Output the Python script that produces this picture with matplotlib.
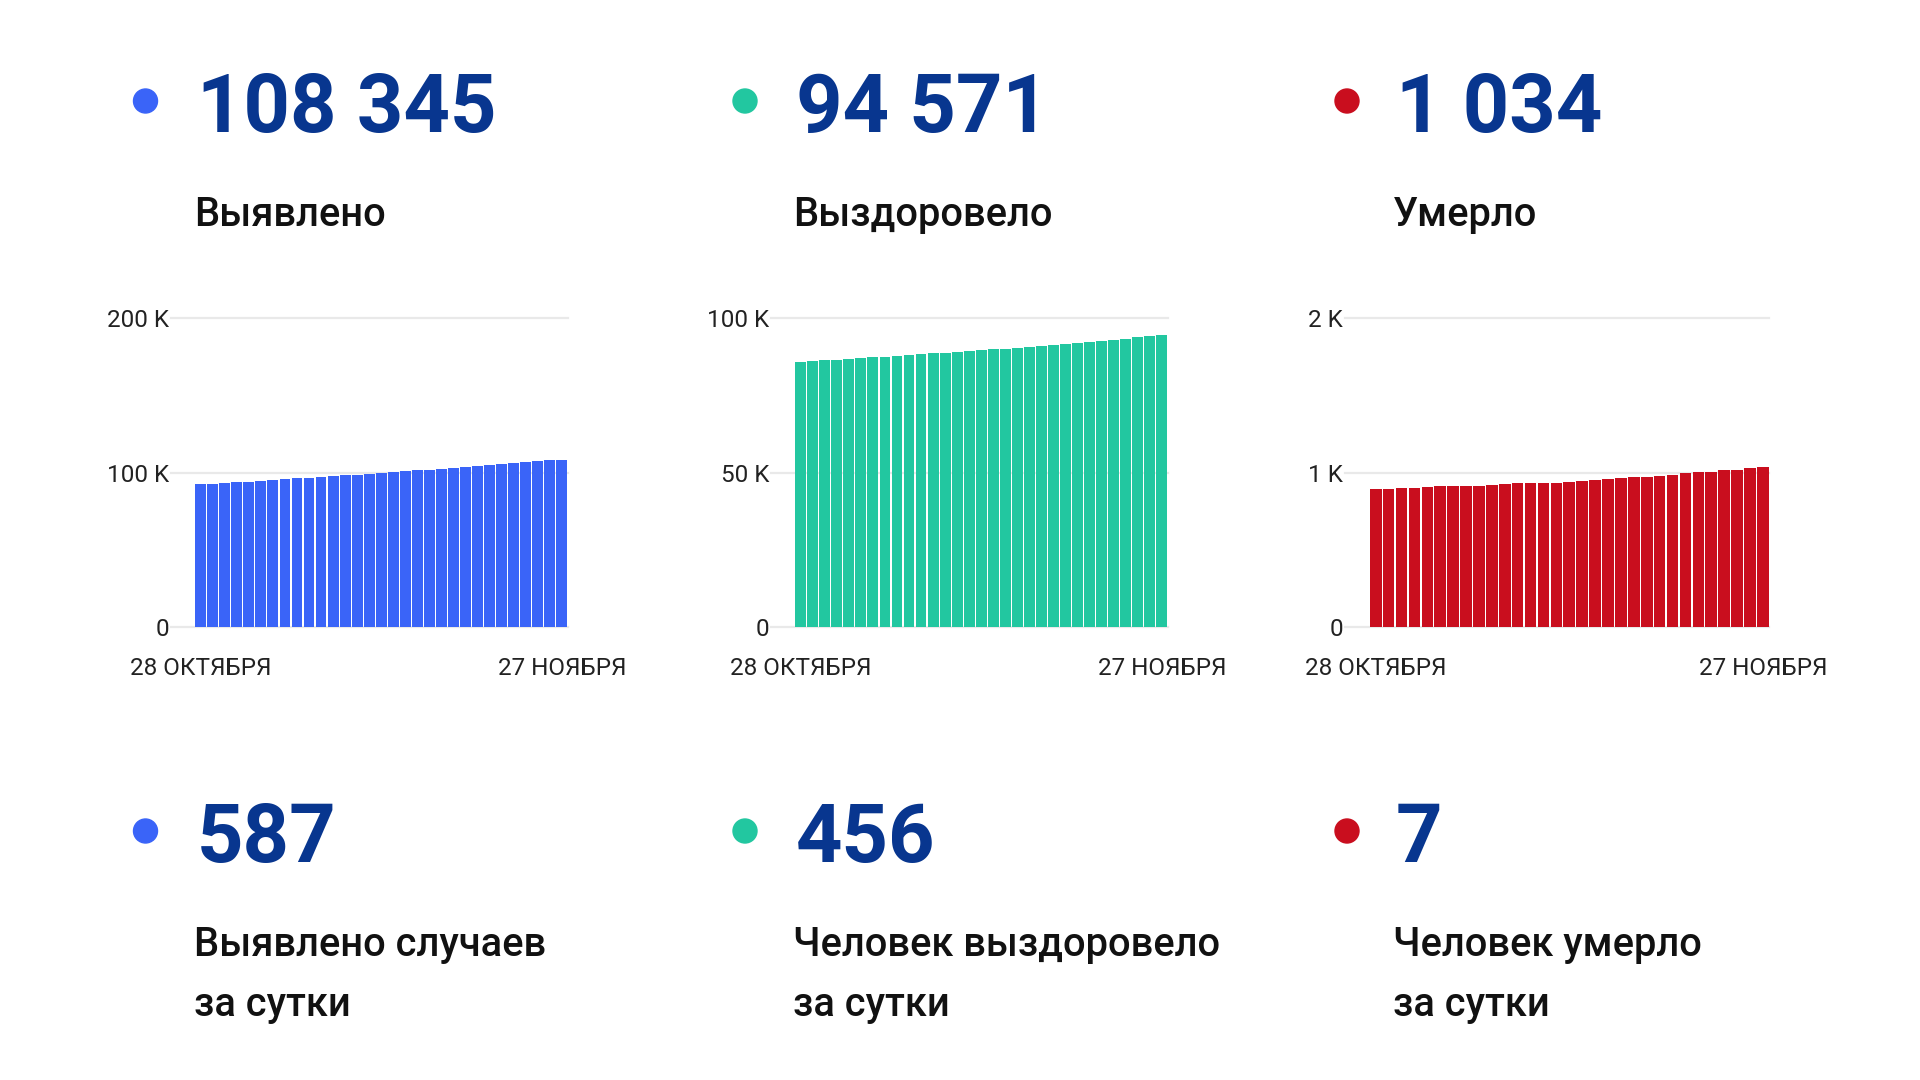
import matplotlib
matplotlib.use("Agg")
import matplotlib.pyplot as plt
from matplotlib.patches import Circle

plt.rcParams['font.family'] = ['Roboto', 'DejaVu Sans']

# ---------------- data ----------------
date_labels = ["28 ОКТЯБРЯ", "27 НОЯБРЯ"]

cases_total = [92310, 92770, 93235, 93705, 94180, 94660, 95145, 95635, 96130, 96630,
               97135, 97645, 98160, 98680, 99205, 99735, 100270, 100810, 101355, 101905,
               102450, 103000, 103560, 104130, 104700, 105280, 105870, 106470, 107110, 107758,
               108345]
recovered_total = [85620, 85930, 86220, 86490, 86750, 86990, 87220, 87450, 87680, 87920,
                   88170, 88440, 88720, 89000, 89270, 89520, 89760, 90000, 90250, 90520,
                   90810, 91110, 91420, 91740, 92080, 92440, 92820, 93230, 93660, 94115,
                   94571]
deaths_total = [892, 895, 899, 903, 906, 910, 912, 914, 916, 920,
                925, 929, 933, 933, 935, 940, 946, 953, 959, 966,
                970, 970, 976, 985, 994, 1002, 1006, 1013, 1015, 1027,
                1034]

big_numbers = ["108 345", "94 571", "1 034"]
big_labels = ["Выявлено", "Выздоровело", "Умерло"]
day_numbers = ["587", "456", "7"]
day_labels = [["Выявлено случаев", "за сутки"],
              ["Человек выздоровело", "за сутки"],
              ["Человек умерло", "за сутки"]]

y_ticks = [[0, 100000, 200000], [0, 50000, 100000], [0, 1000, 2000]]
y_ticklabels = [["0", "100 K", "200 K"], ["0", "50 K", "100 K"], ["0", "1 K", "2 K"]]

colors = ["#3a64f8", "#22c7a0", "#c90e1e"]
num_color = "#08368f"

# ---------------- figure ----------------
W, H = 1920, 1080
fig = plt.figure(figsize=(W / 100, H / 100), dpi=100)
fig.patch.set_facecolor("white")

# overlay in pixel coordinates
ov = fig.add_axes([0, 0, 1, 1])
ov.set_xlim(0, W)
ov.set_ylim(H, 0)
ov.axis("off")

num_x = [197, 796, 1396]
lab_x = [194, 793, 1393]
dot_x = [145.5, 745, 1347]

for i in range(3):
    ov.add_patch(Circle((dot_x[i], 101), 12, color=colors[i], zorder=3))
    ov.text(num_x[i], 131.7, big_numbers[i], fontsize=58.5, fontweight="bold",
            color=num_color, va="baseline", ha="left")
    ov.text(lab_x[i], 226, big_labels[i], fontsize=28.7, fontweight="medium",
            color="#111111", va="baseline", ha="left")

    ov.add_patch(Circle((dot_x[i], 831), 12, color=colors[i], zorder=3))
    ov.text(num_x[i], 862, day_numbers[i], fontsize=58.5, fontweight="bold",
            color=num_color, va="baseline", ha="left")
    ov.text(lab_x[i], 956, day_labels[i][0], fontsize=28.7, fontweight="medium",
            color="#111111", va="baseline", ha="left")
    ov.text(lab_x[i], 1016, day_labels[i][1], fontsize=28.7, fontweight="medium",
            color="#111111", va="baseline", ha="left")

# ---------------- bar charts ----------------
series = [cases_total, recovered_total, deaths_total]
ax_px = [(171.4, 567.9, -2.43), (771.4, 1167.9, -2.43), (1345, 1769.3, -2.38)]
y_bot, y_top = 627.3, 317.7

for i in range(3):
    l, r, xl = ax_px[i]
    ax = fig.add_axes([l / W, 1 - y_bot / H, (r - l) / W, (y_bot - y_top) / H])
    vals = series[i]
    xs = list(range(len(vals)))
    ax.bar(xs, vals, width=0.9, color=colors[i], zorder=2)
    ax.set_xlim(xl, len(vals) - 0.5)
    ax.set_ylim(y_ticks[i][0], y_ticks[i][-1])
    ax.set_yticks(y_ticks[i], y_ticklabels[i])
    ax.set_xticks([0, len(vals) - 1], date_labels)
    ax.grid(axis="y", color="#e9e9e9", linewidth=1.6, zorder=0)
    ax.grid(axis="x", visible=False)
    for gl in ax.get_ygridlines():
        gl.set_clip_on(False)
    ax.set_axisbelow(True)
    for s in ax.spines.values():
        s.set_visible(False)
    ax.tick_params(axis="y", length=0, pad=1.5, labelsize=17.5, labelcolor="#222222")
    ax.tick_params(axis="x", length=0, pad=21.5, labelsize=17.5, labelcolor="#222222")
    ax.set_facecolor("none")

fig.savefig("out.png", dpi=100, facecolor="white")
